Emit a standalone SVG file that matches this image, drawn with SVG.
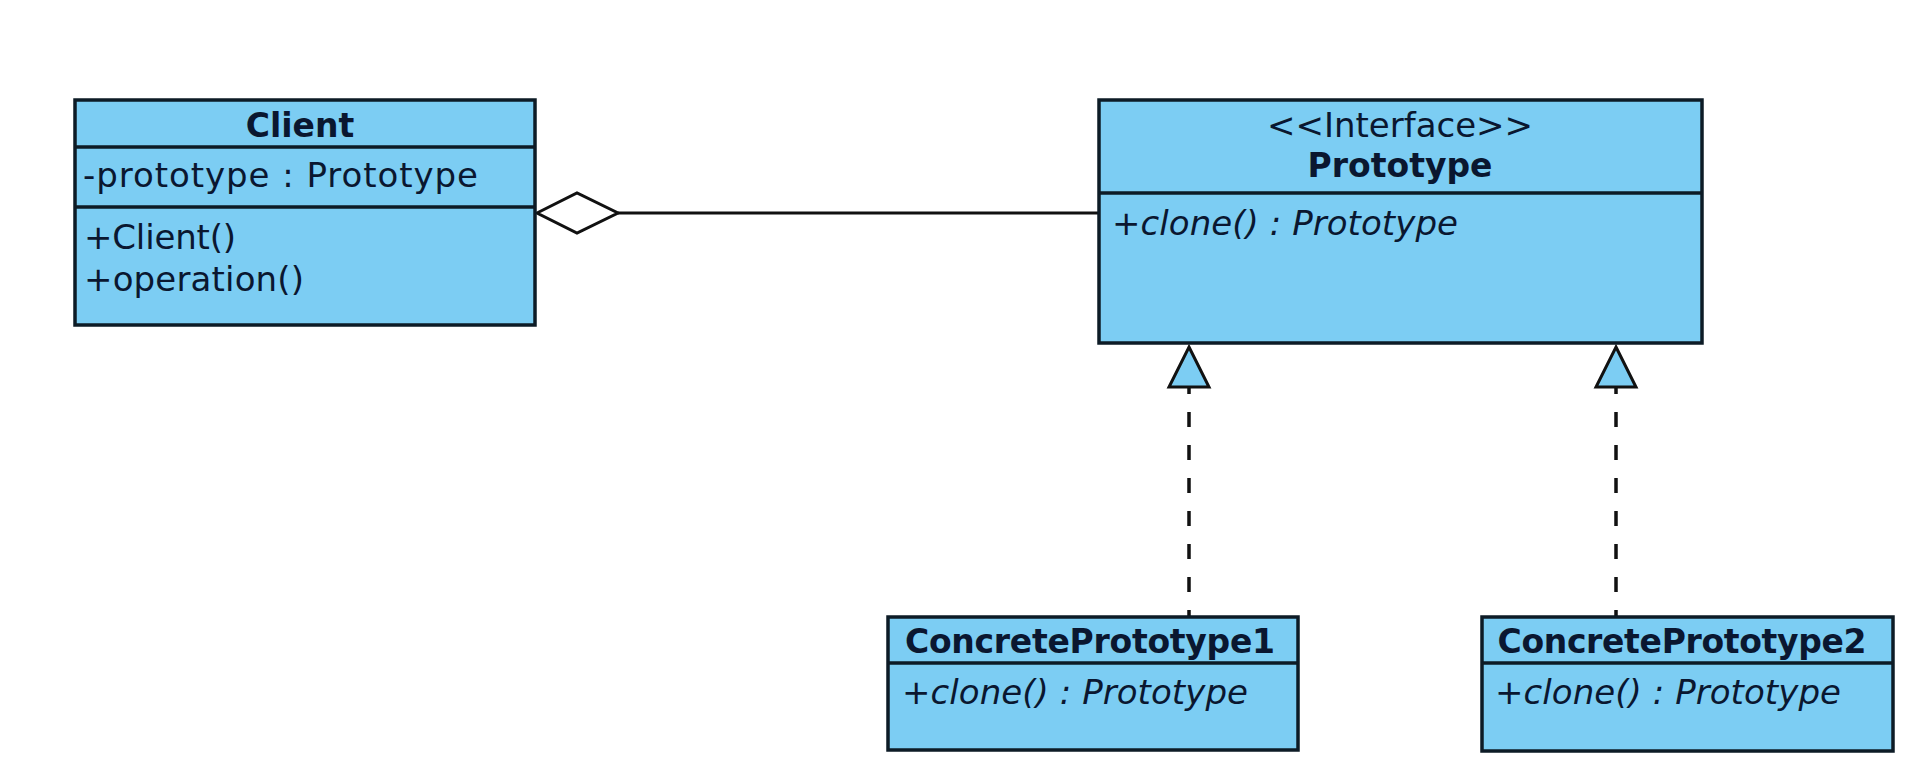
<svg xmlns="http://www.w3.org/2000/svg" width="1908" height="777" viewBox="0 0 1908 777">
<style>
.box{fill:#7ccdf3;stroke:#0d1b26;stroke-width:3.5}
.sep{stroke:#0d1b26;stroke-width:3.5}
.t{font-family:"DejaVu Sans","Liberation Sans",sans-serif;font-size:34px;fill:#0a1730}
.b{font-weight:bold;font-size:33px}
.i{font-style:italic}
.c{text-anchor:middle}
.edge{stroke:#111;stroke-width:3;fill:none}
.dash{stroke:#111;stroke-width:3.5;fill:none;stroke-dasharray:15 18;stroke-dashoffset:8}
</style>
<rect width="1908" height="777" fill="#ffffff"/>
<g id="connectors">
  <line class="edge" x1="618" y1="213" x2="1099" y2="213"/>
  <polygon points="537,213 577,193 618,213 577,233" fill="#ffffff" stroke="#111" stroke-width="3"/>
  <line class="dash" x1="1189" y1="387" x2="1189" y2="617"/>
  <polygon points="1189,347 1209,387 1169,387" fill="#7ccdf3" stroke="#111" stroke-width="3"/>
  <line class="dash" x1="1616" y1="387" x2="1616" y2="617"/>
  <polygon points="1616,347 1636,387 1596,387" fill="#7ccdf3" stroke="#111" stroke-width="3"/>
</g>
<g id="client">
  <rect class="box" x="75" y="100" width="460" height="225"/>
  <line class="sep" x1="75" y1="147" x2="535" y2="147"/>
  <line class="sep" x1="75" y1="207" x2="535" y2="207"/>
  <text class="t b c" x="300" y="137">Client</text>
  <text class="t" x="83" y="187" textLength="395">-prototype : Prototype</text>
  <text class="t" x="84" y="249" textLength="152">+Client()</text>
  <text class="t" x="84" y="291" textLength="220">+operation()</text>
</g>
<g id="prototype">
  <rect class="box" x="1099" y="100" width="603" height="243"/>
  <line class="sep" x1="1099" y1="193" x2="1702" y2="193"/>
  <text class="t c" x="1400" y="137">&lt;&lt;Interface&gt;&gt;</text>
  <text class="t b c" x="1400" y="177">Prototype</text>
  <text class="t i" x="1112" y="235" textLength="346">+clone() : Prototype</text>
</g>
<g id="concrete1">
  <rect class="box" x="888" y="617" width="410" height="133"/>
  <line class="sep" x1="888" y1="663" x2="1298" y2="663"/>
  <text class="t b c" x="1090" y="653" textLength="370">ConcretePrototype1</text>
  <text class="t i" x="902" y="704" textLength="346">+clone() : Prototype</text>
</g>
<g id="concrete2">
  <rect class="box" x="1482" y="617" width="411" height="134"/>
  <line class="sep" x1="1482" y1="663" x2="1893" y2="663"/>
  <text class="t b c" x="1682" y="653" textLength="369">ConcretePrototype2</text>
  <text class="t i" x="1495" y="704" textLength="346">+clone() : Prototype</text>
</g>
</svg>
